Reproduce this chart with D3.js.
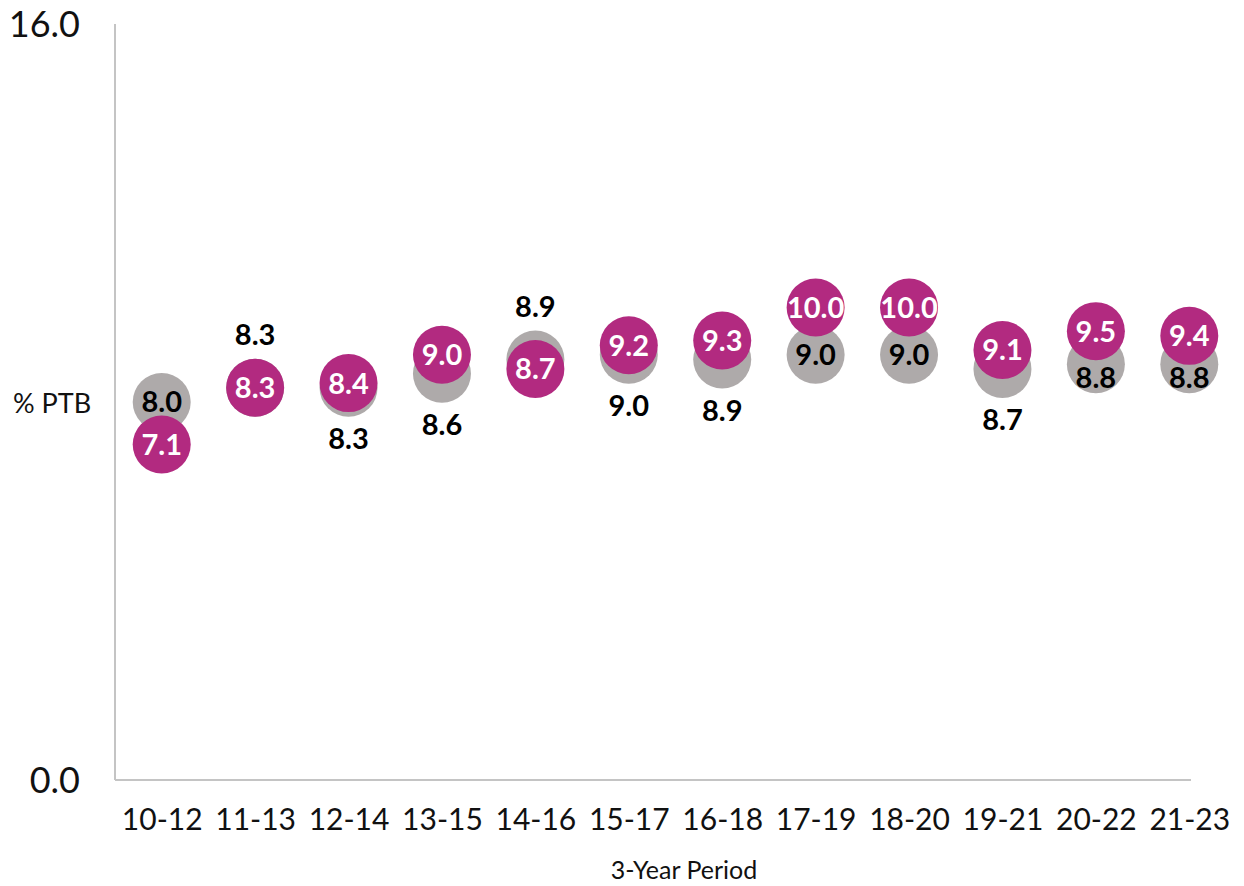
<!DOCTYPE html>
<html>
<head>
<meta charset="utf-8">
<script src="https://cdn.jsdelivr.net/npm/d3@7"></script>
<style>
    body { margin: 0; background: #fff; }
    svg { display: block; font-family: Lato, "DejaVu Sans", sans-serif; }
</style>
</head>
<body>
<div id="chart"></div>
<script>

var periods = ["10-12", "11-13", "12-14", "13-15", "14-16", "15-17", "16-18", "17-19", "18-20", "19-21", "20-22", "21-23"];
var greyValues = [8.0, 8.3, 8.3, 8.6, 8.9, 9.0, 8.9, 9.0, 9.0, 8.7, 8.8, 8.8];
var pinkValues = [7.1, 8.3, 8.4, 9.0, 8.7, 9.2, 9.3, 10.0, 10.0, 9.1, 9.5, 9.4];
// where the grey data label sits relative to its dot
var greyLabelPlace = ["center", "above", "below", "below", "above", "below", "below", "center", "center", "below", "low", "low"];
var yTicks = [0, 16];

var width = 1244, height = 886;
var greyColor = "#aeaaaa", pinkColor = "#b22a80";
var radius = 29;

var svg = d3.select("#chart").append("svg")
    .attr("width", width)
    .attr("height", height);

var x = d3.scalePoint()
    .domain(periods)
    .range([115, 1236])
    .padding(0.5);
var y = d3.scaleLinear()
    .domain([0, 16])
    .range([780, 24]);

// axes lines
svg.append("line")
    .attr("x1", 115).attr("x2", 115)
    .attr("y1", y(16)).attr("y2", y(0))
    .attr("stroke", "#c4c4c4").attr("stroke-width", 2);
svg.append("line")
    .attr("x1", 115).attr("x2", 1191)
    .attr("y1", y(0)).attr("y2", y(0))
    .attr("stroke", "#c4c4c4").attr("stroke-width", 2);

var yAxis = d3.axisLeft(y)
    .tickValues(yTicks)
    .tickFormat(d3.format(".1f"))
    .tickSize(0)
    .tickPadding(0);
var gy = svg.append("g")
    .attr("transform", "translate(80,0)")
    .call(yAxis);
gy.select(".domain").remove();
gy.selectAll("text")
    .attr("font-family", "Lato, sans-serif")
    .attr("font-size", 36)
    .attr("fill", "#111")
    .attr("dy", "0.35em");

var xAxis = d3.axisBottom(x).tickSize(0).tickPadding(0);
var gx = svg.append("g")
    .attr("transform", "translate(0,809)")
    .call(xAxis);
gx.select(".domain").remove();
gx.selectAll("text")
    .attr("font-family", "Lato, sans-serif")
    .attr("font-size", 30)
    .attr("fill", "#111")
    .attr("dy", "0.71em");

svg.append("text")
    .attr("x", 13).attr("y", 404)
    .attr("dy", "0.35em")
    .attr("font-size", 27)
    .attr("fill", "#111")
    .text("% PTB");

svg.append("text")
    .attr("x", 684).attr("y", 870)
    .attr("dy", "0.35em")
    .attr("text-anchor", "middle")
    .attr("font-size", 25)
    .attr("fill", "#111")
    .text("3-Year Period");

var grey = periods.map(function (p, i) { return { period: p, value: greyValues[i], place: greyLabelPlace[i] }; });
var pink = periods.map(function (p, i) { return { period: p, value: pinkValues[i] }; });

svg.append("g").selectAll("circle")
    .data(grey)
    .enter().append("circle")
    .attr("cx", d => x(d.period))
    .attr("cy", d => y(d.value))
    .attr("r", radius)
    .attr("fill", greyColor);

svg.append("g").selectAll("circle")
    .data(pink)
    .enter().append("circle")
    .attr("cx", d => x(d.period))
    .attr("cy", d => y(d.value))
    .attr("r", radius)
    .attr("fill", pinkColor);

var offsets = { above: -53, below: 51, center: 0, low: 13 };

svg.append("g").selectAll("text")
    .data(grey)
    .enter().append("text")
    .attr("x", d => x(d.period))
    .attr("y", d => y(d.value) + offsets[d.place])
    .attr("dy", "0.36em")
    .attr("text-anchor", "middle")
    .attr("font-size", 29)
    .attr("font-weight", "bold")
    .attr("fill", "#000")
    .text(d => d.value.toFixed(1));

svg.append("g").selectAll("text")
    .data(pink)
    .enter().append("text")
    .attr("x", d => x(d.period))
    .attr("y", d => y(d.value))
    .attr("dy", "0.36em")
    .attr("text-anchor", "middle")
    .attr("font-size", 29)
    .attr("font-weight", "bold")
    .attr("fill", "#fff")
    .text(d => d.value.toFixed(1));

</script>
</body>
</html>
